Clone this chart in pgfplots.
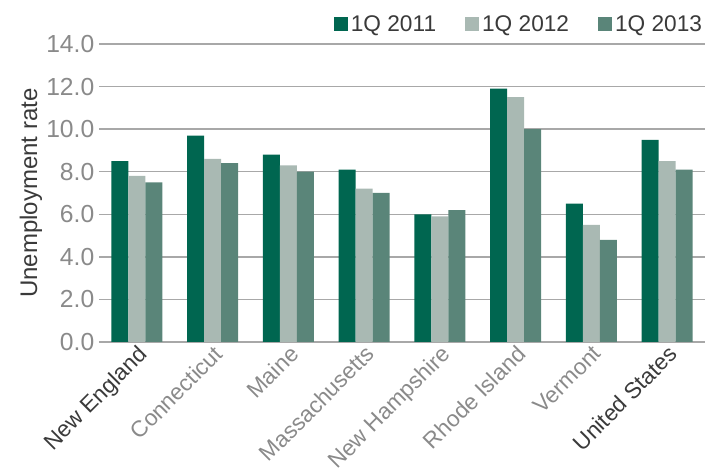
\documentclass[border=0pt]{standalone}
\usepackage{pgfplots}
\pgfplotsset{compat=1.18}
\usepackage{fontspec}
\setmainfont{Liberation Sans}
\definecolor{c11}{HTML}{006650}
\definecolor{c12}{HTML}{A9B9B3}
\definecolor{c13}{HTML}{5A8579}
\definecolor{gridc}{HTML}{A8A8A8}
\definecolor{txt}{HTML}{8A8A8A}
\definecolor{txtd}{HTML}{3A3A3A}
\pgfplotsset{
  legbox/.style={legend image code/.code={\fill[##1] (0pt,-5pt) rectangle (10.5pt,5.5pt);}},
}
\begin{document}
\begin{tikzpicture}
\begin{axis}[
  scale only axis, width=454.5pt, height=223.5pt,
  ybar, bar width=0.225,
  ymin=0, ymax=14, ytick={0,2,...,14},
  xmin=-0.5, xmax=7.5, xtick={0,...,7},
  xticklabels={\textcolor{txtd}{New England},Connecticut,Maine,Massachusetts,New Hampshire,Rhode Island,Vermont,\textcolor{txtd}{United States}},
  yticklabel={\pgfmathprintnumber[fixed,fixed zerofill,precision=1]{\tick}},
  /pgf/number format/assume math mode=true,
  major tick length=0pt,
  axis line style={draw=none},
  ymajorgrids, grid style={gridc, line width=1.1pt},
  tick label style={font=\fontsize{17}{20}\selectfont, text=txt},
  y tick label style={font=\fontsize{18.5}{21}\selectfont},
  x tick label style={rotate=45, anchor=north east, inner sep=1pt},
  ylabel={Unemployment rate},
  every axis y label/.style={at={(axis description cs:0,0.5)}, rotate=90, anchor=center, yshift=51pt, font=\fontsize{18}{21}\selectfont, text=txtd},
  legend style={at={(1,1)}, anchor=south east, yshift=6pt, draw=none, fill=none,
    legend columns=3, font=\fontsize{17}{20}\selectfont, text=txtd,
    /tikz/every even column/.append style={column sep=20pt}, inner sep=0pt},
  legend cell align=left,
]
\coordinate (sw) at (rel axis cs:0,0);
\addplot[fill=c11, draw=none, bar shift=-0.225, legbox] coordinates {
  (0,8.5) (1,9.7) (2,8.8) (3,8.1) (4,6.0) (5,11.9) (6,6.5) (7,9.5)};
\addplot[fill=c12, draw=none, bar shift=0, legbox] coordinates {
  (0,7.8) (1,8.6) (2,8.3) (3,7.2) (4,5.9) (5,11.5) (6,5.5) (7,8.5)};
\addplot[fill=c13, draw=none, bar shift=0.225, legbox] coordinates {
  (0,7.5) (1,8.4) (2,8.0) (3,7.0) (4,6.2) (5,10.0) (6,4.8) (7,8.1)};
\legend{1Q 2011,1Q 2012,1Q 2013}
\end{axis}
\path[use as bounding box] ([shift={(-74.25pt,-91.5pt)}]sw) rectangle ([shift={(458.25pt,256.5pt)}]sw);
\end{tikzpicture}
\end{document}
